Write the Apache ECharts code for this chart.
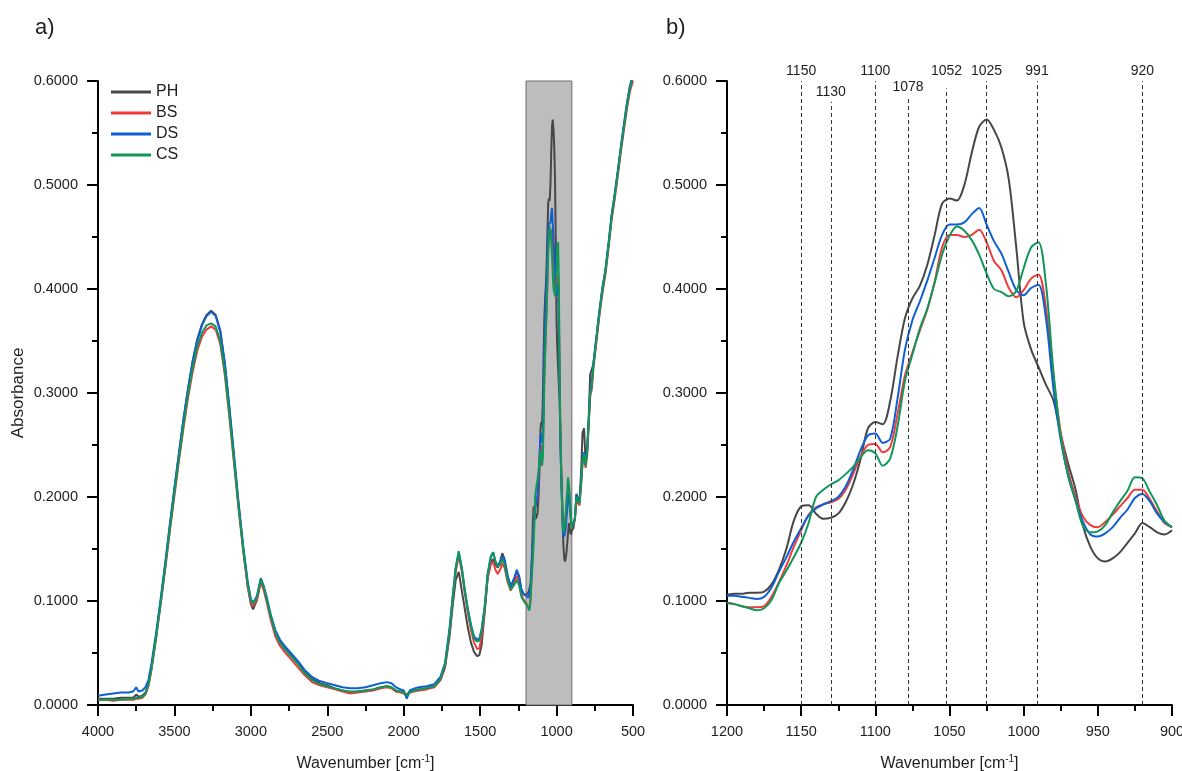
<!DOCTYPE html>
<html>
<head>
<meta charset="utf-8">
<script src="https://cdn.jsdelivr.net/npm/echarts@6/dist/echarts.min.js"></script>
<style>
  html, body { margin: 0; padding: 0; background: #fff; }
  #chart { width: 1182px; height: 771px; }
</style>
</head>
<body>
<div id="chart"></div>
<script>
// wavenumbers above the shaded window (panel a only)
const waveHigh = [4000, 3950, 3900, 3850, 3800, 3770, 3750, 3735, 3710, 3690, 3670, 3650, 3620, 3590, 3560, 3530, 3500, 3470, 3440, 3410,
  3380, 3350, 3320, 3290, 3260, 3230, 3200, 3170, 3140, 3110, 3080, 3050, 3020, 3000, 2985, 2960, 2935, 2915, 2895, 2870,
  2840, 2810, 2780, 2750, 2720, 2690, 2650, 2600, 2550, 2500, 2450, 2400, 2350, 2300, 2250, 2200, 2150, 2110, 2080, 2050,
  2020, 2000, 1980, 1960, 1930, 1900, 1850, 1800, 1760, 1730, 1700, 1680, 1660, 1640, 1620, 1600, 1580, 1560, 1540, 1520,
  1505, 1490, 1470, 1450, 1430, 1415, 1400, 1385, 1370, 1355, 1340, 1320, 1300, 1290, 1275, 1260, 1245, 1230, 1215, 1205]
const phHigh = [.006, .006, .006, .007, .007, .007, .010, .008, .009, .012, .020, .036, .066, .100, .135, .172, .207, .242, .275, .305,
  .331, .352, .366, .375, .379, .375, .360, .328, .284, .238, .192, .150, .114, .097, .092, .101, .120, .112, .100, .085,
  .070, .061, .055, .050, .045, .040, .032, .025, .021, .019, .016, .014, .012, .013, .014, .015, .017, .018, .017, .013,
  .013, .012, .010, .013, .014, .015, .016, .018, .024, .036, .066, .095, .120, .128, .110, .092, .074, .060, .051, .047,
  .048, .058, .090, .125, .138, .140, .135, .132, .138, .146, .140, .124, .114, .113, .121, .129, .124, .111, .106, .105]
const bsHigh = [.005, .005, .004, .005, .005, .005, .006, .006, .007, .010, .018, .034, .064, .097, .131, .167, .201, .235, .267, .296,
  .321, .341, .354, .361, .364, .361, .347, .317, .276, .232, .188, .148, .113, .098, .095, .102, .118, .110, .098, .082,
  .066, .057, .051, .046, .041, .036, .029, .022, .019, .017, .015, .013, .011, .012, .013, .014, .016, .017, .016, .013,
  .012, .011, .009, .012, .013, .014, .015, .017, .024, .037, .070, .100, .128, .144, .128, .107, .088, .072, .060, .054,
  .054, .066, .091, .122, .135, .138, .130, .126, .130, .136, .132, .118, .110, .110, .118, .124, .117, .106, .101, .099]
const dsHigh = [.009, .010, .011, .012, .012, .013, .017, .013, .014, .017, .024, .040, .069, .102, .137, .174, .209, .243, .276, .305,
  .331, .351, .365, .374, .378, .374, .359, .328, .286, .240, .194, .153, .118, .102, .098, .105, .122, .114, .103, .087,
  .072, .063, .057, .052, .047, .042, .034, .027, .023, .021, .019, .017, .016, .016, .017, .019, .021, .022, .021, .017,
  .015, .014, .006, .014, .016, .017, .018, .020, .027, .040, .074, .104, .132, .147, .132, .110, .092, .077, .066, .063,
  .064, .073, .095, .127, .143, .147, .138, .134, .137, .143, .139, .124, .114, .113, .123, .130, .123, .111, .107, .106]
const csHigh = [.005, .005, .005, .005, .006, .006, .007, .007, .008, .011, .019, .035, .065, .098, .133, .169, .204, .238, .270, .300,
  .325, .345, .358, .365, .367, .364, .350, .320, .279, .235, .190, .150, .116, .101, .097, .104, .121, .113, .101, .085,
  .069, .060, .054, .049, .044, .039, .031, .024, .020, .018, .016, .014, .013, .013, .014, .015, .017, .018, .017, .014,
  .013, .012, .009, .012, .014, .015, .016, .018, .025, .038, .072, .102, .131, .148, .131, .110, .091, .076, .064, .061,
  .062, .072, .094, .126, .142, .147, .138, .133, .135, .140, .135, .120, .111, .111, .116, .120, .115, .104, .100, .098]

// shaded window 1200-900 (panel b, also part of panel a)
const waveWin = [1200, 1195, 1190, 1185, 1180, 1175, 1170, 1165, 1160, 1155, 1150, 1145, 1140, 1135, 1130, 1125, 1120, 1115, 1110, 1105,
  1100, 1095, 1090, 1085, 1080, 1075, 1070, 1065, 1060, 1055, 1050, 1045, 1040, 1035, 1030, 1025, 1020, 1015, 1010, 1005,
  1000, 995, 990, 985, 980, 975, 970, 965, 960, 955, 950, 945, 940, 935, 930, 925, 920, 915, 910, 905, 900]
const phWin = [.106, .107, .107, .108, .108, .109, .116, .130, .150, .177, .191, .192, .184, .179, .180, .184, .195, .212, .236, .266,
  .272, .270, .292, .335, .372, .391, .403, .423, .452, .482, .487, .485, .500, .531, .556, .563, .553, .536, .505, .440,
  .368, .342, .325, .308, .293, .260, .232, .207, .172, .152, .141, .138, .141, .147, .156, .165, .175, .171, .166, .164, .168]
const bsWin = [.098, .097, .095, .094, .094, .095, .104, .118, .134, .152, .168, .183, .190, .193, .195, .198, .207, .222, .239, .250,
  .251, .243, .248, .280, .317, .339, .360, .380, .407, .440, .452, .452, .450, .452, .457, .445, .427, .418, .401, .392,
  .399, .410, .414, .382, .316, .262, .225, .200, .181, .173, .171, .176, .183, .191, .199, .207, .207, .198, .186, .175, .171]
const dsWin = [.105, .105, .104, .103, .102, .104, .113, .128, .142, .157, .170, .182, .189, .193, .196, .200, .210, .226, .245, .259,
  .261, .252, .256, .295, .342, .370, .388, .408, .430, .452, .462, .462, .464, .472, .478, .462, .446, .434, .416, .399,
  .394, .401, .404, .372, .305, .255, .220, .197, .176, .164, .162, .165, .171, .180, .188, .199, .203, .196, .184, .176, .171]
const csWin = [.098, .097, .095, .093, .091, .093, .101, .117, .129, .142, .156, .175, .200, .207, .212, .216, .222, .229, .238, .245,
  .242, .230, .237, .268, .312, .337, .362, .381, .406, .433, .451, .460, .456, .447, .433, .415, .400, .397, .393, .398,
  .420, .440, .445, .405, .322, .258, .221, .196, .172, .166, .167, .173, .185, .196, .206, .219, .218, .205, .192, .177, .171]

// below the window (panel a only)
const waveLow = [895, 890, 880, 870, 860, 850, 840, 830, 820, 810, 800, 790, 780, 770, 760, 740, 720, 700, 680, 660, 640, 620, 600, 580, 560, 540, 520, 500]
const phLow = [.168, .170, .180, .203, .198, .196, .222, .262, .266, .234, .245, .275, .318, .318, .327, .352, .378, .400, .418, .443, .470, .490, .512, .535, .557, .578, .595, .606]
const bsLow = [.170, .171, .178, .198, .194, .192, .210, .232, .238, .228, .240, .268, .297, .303, .322, .348, .374, .396, .414, .439, .466, .486, .508, .531, .552, .573, .590, .600]
const dsLow = [.171, .172, .180, .202, .198, .196, .214, .238, .243, .232, .245, .273, .302, .308, .327, .353, .379, .401, .419, .444, .471, .491, .513, .536, .557, .578, .595, .605]
const csLow = [.171, .172, .179, .200, .196, .194, .212, .235, .241, .230, .243, .271, .300, .306, .325, .351, .377, .399, .417, .442, .469, .489, .511, .534, .555, .576, .593, .603]

const names = ['PH', 'BS', 'DS', 'CS']
const colors = ['#474747', '#ef3b3b', '#0f5fd4', '#10975a']
const peakLabels = [1150, 1130, 1100, 1078, 1052, 1025, 991, 920]
const peakTops = [0.6, 0.58, 0.6, 0.584, 0.593, 0.6, 0.6, 0.6]

const FONT = 'Liberation Sans, Arial, sans-serif'
const TXT = '#1e1e1e'

function pairs(x, y) {
    return x.map((v, i) => [v, y[i]])
}

const fullWave = waveHigh.concat(waveWin, waveLow)
const fullVals = [
    phHigh.concat(phWin, phLow),
    bsHigh.concat(bsWin, bsLow),
    dsHigh.concat(dsWin, dsLow),
    csHigh.concat(csWin, csLow)
]
const winVals = [phWin, bsWin, dsWin, csWin]

function xAxis(gridIndex, min, max, interval) {
    return {
        type: 'value', gridIndex, min, max, interval, inverse: true,
        name: 'Wavenumber [cm{sup|-1}]',
        nameLocation: 'middle', nameGap: 49,
        nameTextStyle: {
            fontFamily: FONT, fontSize: 16, color: TXT, lineHeight: 20,
            rich: { sup: { fontFamily: FONT, fontSize: 10, color: TXT, lineHeight: 20, padding: [0, 0, 9, 0] } }
        },
        axisLine: { onZero: false, lineStyle: { color: '#000', width: 2 } },
        axisTick: { length: 11, lineStyle: { color: '#000', width: 2 } },
        minorTick: { show: true, splitNumber: 2, length: 6, lineStyle: { color: '#000', width: 2 } },
        splitLine: { show: false },
        axisLabel: { fontFamily: FONT, fontSize: 14.5, color: TXT, margin: 19, formatter: v => String(v) }
    }
}

function yAxis(gridIndex, withName) {
    return {
        type: 'value', gridIndex, min: 0, max: 0.6, interval: 0.1,
        name: withName ? 'Absorbance' : '',
        nameLocation: 'middle', nameGap: 71,
        nameTextStyle: { fontFamily: FONT, fontSize: 17, color: TXT },
        axisLine: { show: true, onZero: false, lineStyle: { color: '#000', width: 2 } },
        axisTick: { show: true, length: 11, lineStyle: { color: '#000', width: 2 } },
        minorTick: { show: true, splitNumber: 2, length: 6, lineStyle: { color: '#000', width: 2 } },
        splitLine: { show: false },
        axisLabel: { fontFamily: FONT, fontSize: 14.5, color: TXT, margin: 20, formatter: v => v.toFixed(4) }
    }
}

const series = []
// shaded window in panel a
series.push({
    type: 'line', xAxisIndex: 0, yAxisIndex: 0, data: [], z: 1, silent: true,
    markArea: {
        silent: true,
        itemStyle: { color: '#bdbdbd', borderColor: '#707070', borderWidth: 1 },
        data: [[{ xAxis: 1200, yAxis: 0 }, { xAxis: 900, yAxis: 0.6 }]]
    }
})
// dashed peak markers in panel b
series.push({
    type: 'line', xAxisIndex: 1, yAxisIndex: 1, data: [], z: 1, silent: true,
    markLine: {
        silent: true, symbol: ['none', 'none'],
        lineStyle: { color: '#333', width: 1, type: [4, 3] },
        label: { show: true, position: 'end', fontFamily: FONT, fontSize: 14, color: TXT, formatter: '{b}' },
        data: peakLabels.map((p, i) => [
            { name: String(p), coord: [p, 0], label: { distance: p === 1052 ? 10 : 3 } },
            { coord: [p, peakTops[i]] }
        ])
    }
})
names.forEach((n, i) => {
    series.push({
        name: n, type: 'line', xAxisIndex: 0, yAxisIndex: 0, z: 2,
        symbol: 'none', color: colors[i], lineStyle: { width: 2 },
        data: pairs(fullWave, fullVals[i])
    })
})
names.forEach((n, i) => {
    series.push({
        name: n, type: 'line', xAxisIndex: 1, yAxisIndex: 1, z: 2,
        symbol: 'none', smooth: 0.3, color: colors[i], lineStyle: { width: 2 },
        data: pairs(waveWin, winVals[i])
    })
})

const myChart = echarts.init(document.getElementById('chart'))
myChart.setOption({
    animation: false,
    backgroundColor: '#fff',
    title: [
        { text: 'a)', left: 30, top: 12, textStyle: { fontFamily: FONT, fontSize: 22, fontWeight: 'normal', color: TXT } },
        { text: 'b)', left: 661, top: 12, textStyle: { fontFamily: FONT, fontSize: 22, fontWeight: 'normal', color: TXT } }
    ],
    legend: {
        data: names, orient: 'vertical', left: 106, top: 79,
        icon: 'rect', itemWidth: 40, itemHeight: 3, itemGap: 5,
        textStyle: { fontFamily: FONT, fontSize: 16, color: TXT, lineHeight: 16 }
    },
    grid: [
        { left: 98, top: 81, width: 535, height: 624, outerBoundsMode: 'none' },
        { left: 727, top: 81, width: 445, height: 624, outerBoundsMode: 'none' }
    ],
    xAxis: [xAxis(0, 500, 4000, 500), xAxis(1, 900, 1200, 50)],
    yAxis: [yAxis(0, true), yAxis(1, false)],
    series
})
</script>
</body>
</html>
